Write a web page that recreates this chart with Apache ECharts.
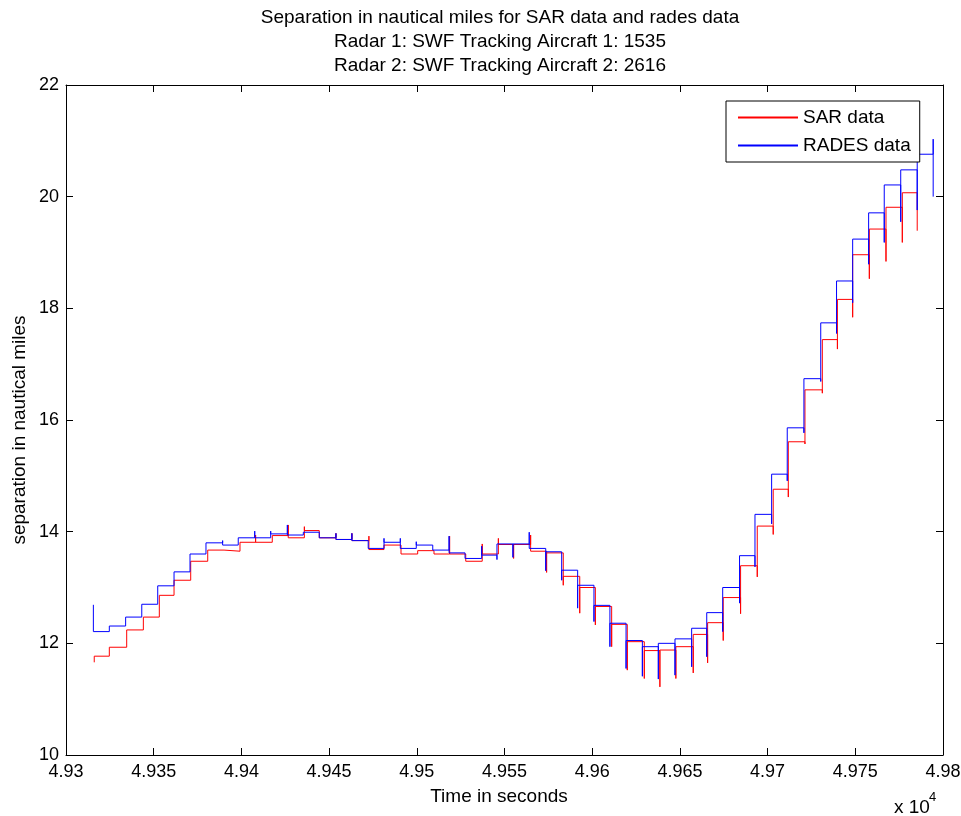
<!DOCTYPE html>
<html><head><meta charset="utf-8">
<script src="https://cdn.jsdelivr.net/npm/echarts@6/dist/echarts.min.js"></script>
<style>html,body{margin:0;padding:0;background:#fff}#c{width:961px;height:816px}</style>
</head><body><div id="c"></div>
<script>
const titleLines = [
  'Separation in nautical miles for SAR data and rades data',
  'Radar 1: SWF Tracking Aircraft 1: 1535',
  'Radar 2: SWF Tracking Aircraft 2: 2616'
];
const xAxisTitle = 'Time in seconds';
const yAxisTitle = 'separation in nautical miles';
const xTickLabels = ['4.93','4.935','4.94','4.945','4.95','4.955','4.96','4.965','4.97','4.975','4.98'];
const xMin = 49300, xMax = 49800, xStep = 50;
const yMin = 10, yMax = 22, yStep = 2;

// RADES data (blue): step start times, held levels, transient extreme at each step start
const radesTimes = [49315.6,49324.7,49334.0,49343.2,49352.3,49361.6,49370.7,49379.8,49389.3,49398.2,
  49407.6,49416.7,49426.2,49435.3,49444.4,49453.9,49463.0,49472.3,49481.3,49490.6,
  49499.7,49509.1,49518.4,49527.5,49537.0,49545.7,49554.8,49564.1,49573.5,49582.6,
  49591.7,49601.0,49610.1,49619.3,49628.6,49637.7,49647.2,49656.7,49665.3,49674.4,
  49684.0,49692.8,49702.3,49711.2,49720.7,49730.3,49739.3,49748.5,49757.6,49766.5,
  49775.9,49785.3,49794.4];
const radesLevels = [12.21,12.31,12.47,12.70,13.03,13.28,13.60,13.80,13.76,13.89,
  13.89,13.96,13.94,13.99,13.89,13.86,13.84,13.70,13.81,13.70,
  13.76,13.67,13.62,13.52,13.58,13.78,13.78,13.70,13.64,13.31,
  13.04,12.68,12.36,12.05,11.94,12.00,12.08,12.27,12.55,13.00,
  13.57,14.31,15.03,15.86,16.74,17.74,18.49,19.24,19.71,20.21,
  20.48,20.76,20.00];
const radesSpikes = [12.69,null,null,null,null,null,null,null,13.84,null,
  14.01,14.01,14.12,null,null,13.97,13.97,null,13.88,13.88,
  13.82,null,13.92,null,13.74,13.50,13.54,13.99,13.30,13.13,
  12.63,12.39,11.94,11.55,11.41,11.36,11.43,11.58,11.76,12.21,
  12.72,13.37,14.14,14.91,15.77,16.69,17.55,18.10,18.79,19.18,
  19.55,19.76,21.03];
const radesEnd = 49794.4;

// SAR data (red)
const sarTimes = [49316.1,49324.7,49334.6,49344.1,49353.2,49361.6,49371.1,49380.8,49390.1,49399.2,
  49408.1,49417.6,49426.7,49435.9,49444.4,49453.9,49463.0,49472.7,49481.3,49491.0,
  49500.5,49509.8,49518.7,49527.9,49537.3,49546.5,49555.2,49564.9,49574.0,49583.5,
  49592.9,49601.8,49611.1,49620.0,49629.7,49638.6,49647.7,49657.6,49665.8,49674.7,
  49684.6,49694.1,49703.2,49711.8,49721.3,49731.2,49739.8,49748.5,49758.0,49767.5,
  49776.8,49785.3];
const sarLevels = [11.77,11.93,12.24,12.47,12.86,13.13,13.47,13.67,13.65,13.81,
  13.81,13.93,13.89,14.02,13.89,13.86,13.84,13.68,13.76,13.60,
  13.66,13.60,13.60,13.47,13.60,13.77,13.77,13.65,13.62,13.20,
  13.00,12.66,12.34,12.03,11.87,11.88,11.94,12.16,12.37,12.82,
  13.39,14.10,14.76,15.61,16.54,17.44,18.16,18.96,19.42,19.81,
  20.07,19.39];
const sarSpikes = [11.66,null,null,null,null,null,null,null,null,null,
  13.94,null,14.12,14.09,null,13.97,13.97,13.92,null,null,
  null,null,13.92,null,13.78,13.88,13.52,13.94,13.27,13.04,
  12.54,12.33,11.94,11.52,11.37,11.22,11.37,11.47,11.65,12.05,
  12.53,13.19,13.95,14.62,15.57,16.48,17.27,17.84,18.53,18.84,
  19.18,null];
const sarEnd = 49785.3;

function buildPath(times, levels, spikes, endT) {
  const pts = [];
  for (let i = 0; i < times.length; i++) {
    if (spikes[i] !== null) pts.push([times[i], spikes[i]]);
    pts.push([times[i], levels[i]]);
    const tNext = i + 1 < times.length ? times[i + 1] : endT;
    if (tNext > times[i]) pts.push([tNext, levels[i]]);
  }
  return pts;
}

const FONT = '"Liberation Sans", Arial, Helvetica, sans-serif';
const axisCommon = {
  axisLine: { show: true, onZero: false, lineStyle: { color: '#000', width: 1 } },
  axisTick: { show: true, inside: true, length: 7, lineStyle: { color: '#000', width: 1 } },
  splitLine: { show: false },
  minorTick: { show: false }
};

const chart = echarts.init(document.getElementById('c'), null, { renderer: 'canvas' });
chart.setOption({
  animation: false,
  backgroundColor: '#fff',
  textStyle: { fontFamily: FONT },
  title: {
    text: titleLines.join('\n'),
    left: 500, top: 6, padding: 0, textAlign: 'center',
    textStyle: { fontFamily: FONT, fontSize: 19, fontWeight: 'normal', color: '#000', lineHeight: 24 }
  },
  grid: { left: 66, right: 18, top: 85, bottom: 61, containLabel: false, outerBoundsMode: 'none' },
  legend: {
    data: ['SAR data', 'RADES data'],
    orient: 'vertical', left: 726, top: 101,
    padding: [7, 9, 7, 11],
    itemWidth: 60, itemHeight: 19, itemGap: 9,
    itemStyle: { opacity: 0 },
    borderColor: '#000', borderWidth: 1, borderRadius: 0, backgroundColor: '#fff',
    textStyle: { fontFamily: FONT, fontSize: 19, color: '#000', lineHeight: 19 }
  },
  xAxis: [
    Object.assign({}, axisCommon, {
      type: 'value', min: xMin, max: xMax, interval: xStep, position: 'bottom',
      axisLabel: { show: true, color: '#000', fontSize: 18, fontFamily: FONT, margin: 8,
        formatter: v => xTickLabels[Math.round((v - xMin) / xStep)] }
    }),
    Object.assign({}, axisCommon, {
      type: 'value', min: xMin, max: xMax, interval: xStep, position: 'top',
      axisLabel: { show: false }
    })
  ],
  yAxis: [
    Object.assign({}, axisCommon, {
      type: 'value', min: yMin, max: yMax, interval: yStep, position: 'left',
      axisLabel: { show: true, color: '#000', fontSize: 18, fontFamily: FONT, margin: 7 }
    }),
    Object.assign({}, axisCommon, {
      type: 'value', min: yMin, max: yMax, interval: yStep, position: 'right',
      axisLabel: { show: false }
    })
  ],
  graphic: [
    { type: 'text', x: 499, y: 797, style: { text: xAxisTitle, fontSize: 19, fontFamily: FONT, fill: '#000', align: 'center', verticalAlign: 'middle' } },
    { type: 'text', x: 20, y: 430, rotation: Math.PI / 2, style: { text: yAxisTitle, fontSize: 19, fontFamily: FONT, fill: '#000', align: 'center', verticalAlign: 'middle' } },
    { type: 'text', left: 894, top: 798, style: { text: 'x 10', fontSize: 19, fontFamily: FONT, fill: '#000' } },
    { type: 'text', left: 929, top: 791, style: { text: '4', fontSize: 13, fontFamily: FONT, fill: '#000' } }
  ],
  series: [
    { name: 'SAR data', type: 'line', xAxisIndex: 0, yAxisIndex: 0, symbol: 'none', showSymbol: false,
      color: '#ff0000', lineStyle: { color: '#ff0000', width: 1 }, silent: true, z: 2,
      data: buildPath(sarTimes, sarLevels, sarSpikes, sarEnd) },
    { name: 'RADES data', type: 'line', xAxisIndex: 0, yAxisIndex: 0, symbol: 'none', showSymbol: false,
      color: '#0000ff', lineStyle: { color: '#0000ff', width: 1 }, silent: true, z: 3,
      data: buildPath(radesTimes, radesLevels, radesSpikes, radesEnd) }
  ]
});
</script>
</body></html>
